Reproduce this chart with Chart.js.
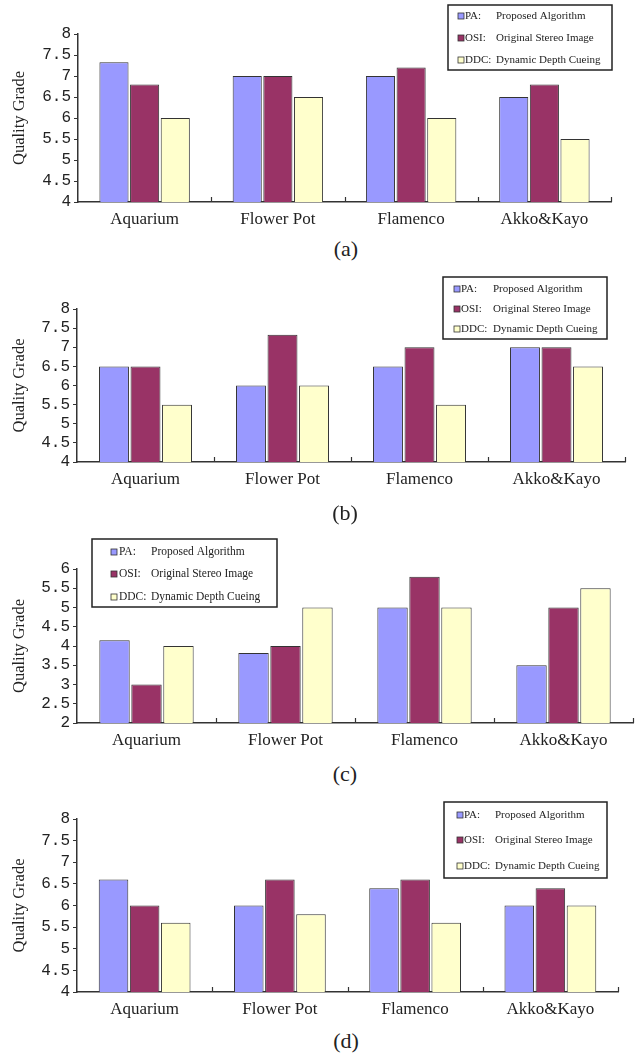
<!DOCTYPE html>
<html>
<head>
<meta charset="utf-8">
<script src="https://cdn.jsdelivr.net/npm/chart.js@4.4.0/dist/chart.umd.min.js"></script>
<style>
  html, body { margin: 0; padding: 0; background: #fff; }
  #page { position: relative; width: 638px; height: 1055px; }
  canvas { position: absolute; left: 0; }
  .caption {
    position: absolute; width: 80px; margin-left: -40px; text-align: center;
    font-family: "Liberation Serif", "Times New Roman", serif; font-size: 22px; color: #222;
    line-height: 24px; margin-top: -12px;
  }
</style>
</head>
<body>
<div id="page">
  <canvas id="chartA" width="638" height="235" style="top:0px"></canvas>
  <canvas id="chartB" width="638" height="235" style="top:262px"></canvas>
  <canvas id="chartC" width="638" height="235" style="top:520px"></canvas>
  <canvas id="chartD" width="638" height="235" style="top:790px"></canvas>
  <div class="caption" style="left:346px; top:249px">(a)</div>
  <div class="caption" style="left:345px; top:513px">(b)</div>
  <div class="caption" style="left:345px; top:774px">(c)</div>
  <div class="caption" style="left:346px; top:1041px">(d)</div>
</div>
<script>
// --- data ---
const categories = ['Aquarium', 'Flower Pot', 'Flamenco', 'Akko&Kayo'];
const seriesPrefix = ['PA:', 'OSI:', 'DDC:'];
const seriesNames = ['Proposed Algorithm', 'Original Stereo Image', 'Dynamic Depth Cueing'];
const seriesColors = ['#9999ff', '#993366', '#ffffcc'];

const paA = [7.33, 7, 7, 6.5];
const osiA = [6.8, 7, 7.2, 6.8];
const ddcA = [6, 6.5, 6, 5.5];

const paB = [6.5, 6, 6.5, 7];
const osiB = [6.5, 7.33, 7, 7];
const ddcB = [5.5, 6, 5.5, 6.5];

const paC = [4.15, 3.82, 5, 3.5];
const osiC = [3, 4, 5.8, 5];
const ddcC = [4, 5, 5, 5.5];

const paD = [6.6, 6, 6.4, 6];
const osiD = [6, 6.6, 6.6, 6.4];
const ddcD = [5.6, 5.8, 5.6, 6];

// y tick values (the figure shows every half grade)
const yTicksABD = [4, 4.5, 5, 5.5, 6, 6.5, 7, 7.5, 8];
const yTicksC = [2, 2.5, 3, 3.5, 4, 4.5, 5, 5.5, 6];

const axisColor = '#333';
const textColor = '#222';
const serif = '"Liberation Serif", "Times New Roman", serif';

// Legend drawn as a bordered box at a fixed spot, like the original figure.
const boxLegend = {
    id: 'boxLegend',
    afterDraw(chart, args, opts) {
        const ctx = chart.ctx;
        ctx.save();
        ctx.strokeStyle = '#222';
        ctx.lineWidth = 1.5;
        ctx.fillStyle = '#fff';
        ctx.fillRect(opts.x, opts.y, opts.w, opts.h);
        ctx.strokeRect(opts.x, opts.y, opts.w, opts.h);
        ctx.font = opts.fontSize + 'px ' + serif;
        ctx.textBaseline = 'middle';
        chart.data.datasets.forEach((ds, i) => {
            const cy = Math.round(opts.rows[i]);
            const mx = opts.x + opts.markerX;
            ctx.fillStyle = ds.backgroundColor;
            ctx.fillRect(mx, cy - 3, 6, 6);
            ctx.lineWidth = 0.8;
            ctx.strokeStyle = '#333';
            ctx.strokeRect(mx, cy - 3, 6, 6);
            ctx.fillStyle = textColor;
            ctx.fillText(ds.prefix, opts.x + opts.textX, cy);
            ctx.fillText(ds.name, opts.x + opts.textX + opts.descX, cy);
        });
        ctx.restore();
    }
};

// Small inward ticks at the category boundaries on the x axis.
const innerTicks = {
    id: 'innerTicks',
    afterDraw(chart) {
        const x = chart.scales.x;
        const ctx = chart.ctx;
        ctx.save();
        ctx.strokeStyle = axisColor;
        ctx.lineWidth = 1.2;
        for (let i = 0; i < categories.length; i++) {
            const px = Math.round(x.getPixelForValue(i + 0.5)) + 0.5;
            ctx.beginPath();
            ctx.moveTo(px, x.top);
            ctx.lineTo(px, x.top - 5);
            ctx.stroke();
        }
        ctx.restore();
    }
};

function makeDatasets(values) {
    return values.map((v, i) => ({
        label: seriesPrefix[i] + ' ' + seriesNames[i],
        prefix: seriesPrefix[i],
        name: seriesNames[i],
        data: v,
        backgroundColor: seriesColors[i],
        borderColor: '#333',
        borderWidth: 1,
        categoryPercentage: 0.69,
        barPercentage: 0.95
    }));
}

function makeChart(id, values, yTicks, area, legend) {
    const canvas = document.getElementById(id);
    return new Chart(canvas, {
        type: 'bar',
        data: { labels: categories, datasets: makeDatasets(values) },
        options: {
            responsive: false,
            animation: false,
            devicePixelRatio: 1,
            layout: { padding: { left: 0, right: 638 - area.right, top: area.top, bottom: 0 } },
            plugins: {
                legend: { display: false },
                tooltip: { enabled: false },
                boxLegend: legend
            },
            scales: {
                x: {
                    offset: true,
                    grid: { display: true, drawOnChartArea: false, drawTicks: false },
                    border: { display: true, color: axisColor, width: 1.5 },
                    ticks: { color: textColor, font: { family: serif, size: 17 }, padding: 7 },
                    afterFit: s => { s.height = canvas.height - area.bottom; }
                },
                y: {
                    min: yTicks[0],
                    max: yTicks[yTicks.length - 1],
                    afterBuildTicks: s => { s.ticks = yTicks.map(v => ({ value: v })); },
                    ticks: {
                        autoSkip: false,
                        color: textColor,
                        font: { family: '"Liberation Mono", "Courier New", monospace', size: 16, lineHeight: 1 },
                        padding: 3,
                        callback: v => String(v)
                    },
                    grid: { drawOnChartArea: false, drawTicks: true, tickLength: 4, color: axisColor },
                    border: { display: true, color: axisColor, width: 1.5 },
                    title: {
                        display: true,
                        text: 'Quality Grade',
                        color: textColor,
                        font: { family: serif, size: 16.5 },
                        padding: { top: 10, bottom: 0 }
                    },
                    afterFit: s => { s.width = area.left; }
                }
            }
        },
        plugins: [boxLegend, innerTicks]
    });
}

makeChart('chartA', [paA, osiA, ddcA], yTicksABD,
    { left: 78, right: 611, top: 34, bottom: 202 },
    { x: 448, y: 5, w: 164, h: 65, markerX: 10, textX: 17, descX: 31, fontSize: 11, rows: [16, 38, 60] });

makeChart('chartB', [paB, osiB, ddcB], yTicksABD,
    { left: 77, right: 625, top: 47, bottom: 200 },
    { x: 443, y: 15, w: 164, h: 62, markerX: 11, textX: 18, descX: 32, fontSize: 11, rows: [27, 47, 67] });

makeChart('chartC', [paC, osiC, ddcC], yTicksC,
    { left: 77, right: 633, top: 49, bottom: 203 },
    { x: 92, y: 19, w: 185, h: 68, markerX: 19, textX: 27, descX: 32, fontSize: 11.5, rows: [32, 54, 77] });

makeChart('chartD', [paD, osiD, ddcD], yTicksABD,
    { left: 77, right: 618, top: 29, bottom: 202 },
    { x: 444, y: 12, w: 163, h: 76, markerX: 13, textX: 20, descX: 31, fontSize: 11, rows: [25, 50, 76] });
</script>
</body>
</html>
